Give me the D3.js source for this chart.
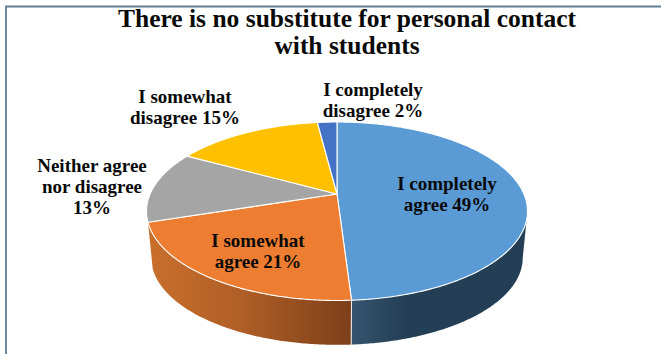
<!DOCTYPE html>
<html>
<head>
<meta charset="utf-8">
<script src="https://cdn.jsdelivr.net/npm/d3@7"></script>
<style>
html,body{margin:0;padding:0;background:#fff;overflow:hidden}
svg{display:block}
text{font-family:"Liberation Serif",serif;font-weight:700;fill:#0a0a0a}
</style>
</head>
<body>
<svg id="chart" width="661" height="354"></svg>
<script>
const titleLines = ["There is no substitute for personal contact", "with students"];
const categories = ["I completely agree", "I somewhat agree", "Neither agree nor disagree", "I somewhat disagree", "I completely disagree"];
const values = [49, 21, 13, 15, 2];
const colors = ["#5b9bd5", "#ed7d31", "#a5a5a5", "#ffc000", "#4472c4"];
const labelLines = [
  ["I completely", "agree 49%"],
  ["I somewhat", "agree 21%"],
  ["Neither agree", "nor disagree", "13%"],
  ["I somewhat", "disagree 15%"],
  ["I completely", "disagree 2%"]
];
const labelAnchors = [[447,190,20.5],[258,247,21],[92,172,21],[185,103,21],[373,96,21]];

const svg = d3.select("#chart");
const W = 661, H = 354;

// frame
svg.append("path").attr("d", `M6,${H} V6.5 H${W}`).attr("fill","none")
  .attr("stroke","#5f7f96").attr("stroke-width",1.8);

// perspective projection of a flat disc
const cx = 337, cy = 194, tilt = 0.1933, A = 186.9, B = 85.9;
const project = a => {
  const u = Math.sin(a), v = -Math.cos(a), w = 1 - tilt * v;
  return [A * u / w, B * v / w];
};
const topPoint = a => { const p = project(a); return [cx + p[0], cy + p[1]]; };
const taper = 0.975, lowerCy = 241;
const lowPoint = a => { const p = project(a); return [cx + taper * p[0], lowerCy + taper * p[1]]; };

const arcs = d3.pie().sort(null).value(d => d)(values);
const line = d3.line();
const sweep = (from, to) => {
  const n = Math.max(2, Math.ceil(Math.abs(to - from) / 0.01));
  return d3.range(n + 1).map(i => from + (to - from) * i / n);
};

const defs = svg.append("defs");
const grad = (id, stops, x1, x2) => {
  const g = defs.append("linearGradient").attr("id", id)
    .attr("gradientUnits","userSpaceOnUse").attr("x1",x1).attr("x2",x2).attr("y1",0).attr("y2",0);
  stops.forEach(s => g.append("stop").attr("offset",s[0]).attr("stop-color",s[1]));
};
grad("wallBlue", [[0,"#36546f"],[0.3,"#243f55"],[1,"#243f55"]], 352, 527);
grad("wallOrange", [[0,"#c96f2c"],[0.45,"#b05f26"],[1,"#7c3f1a"]], 148, 352);

// side walls of the near slices
const walls = [
  {from: Math.PI - Math.acos(tilt), to: arcs[0].endAngle, fill: "url(#wallBlue)"},
  {from: arcs[1].startAngle, to: arcs[1].endAngle, fill: "url(#wallOrange)"}
];
svg.append("g").selectAll("path").data(walls).join("path")
  .attr("d", d => {
    const a = sweep(d.from, d.to);
    return line(a.map(topPoint).concat(a.slice().reverse().map(lowPoint))) + "Z";
  })
  .attr("fill", d => d.fill);
svg.append("line")
  .attr("x1", topPoint(arcs[0].endAngle)[0]).attr("y1", topPoint(arcs[0].endAngle)[1])
  .attr("x2", lowPoint(arcs[0].endAngle)[0]).attr("y2", lowPoint(arcs[0].endAngle)[1])
  .attr("stroke","#f2f2f2").attr("stroke-width",1);

// top face
svg.append("g").selectAll("path").data(arcs).join("path")
  .attr("d", d => line([[cx, cy]].concat(sweep(d.startAngle, d.endAngle).map(topPoint))) + "Z")
  .attr("fill", (d, i) => colors[i])
  .attr("stroke","#fff").attr("stroke-width",1.1).attr("stroke-linejoin","round");

// labels
svg.append("g").selectAll("text.label").data(labelLines).join("text").attr("class","label")
  .attr("text-anchor","middle").attr("font-size",19)
  .each(function(lines, i) {
    const [x, y, dy] = labelAnchors[i];
    d3.select(this).selectAll("tspan").data(lines).join("tspan")
      .attr("x", x).attr("y", (d, j) => y + j * dy).text(d => d);
  });

// title
svg.append("text").attr("text-anchor","middle").attr("font-size",25.5)
  .selectAll("tspan").data(titleLines).join("tspan")
  .attr("x",347).attr("y",(d,i)=>27+i*27).text(d=>d);
</script>
</body>
</html>
